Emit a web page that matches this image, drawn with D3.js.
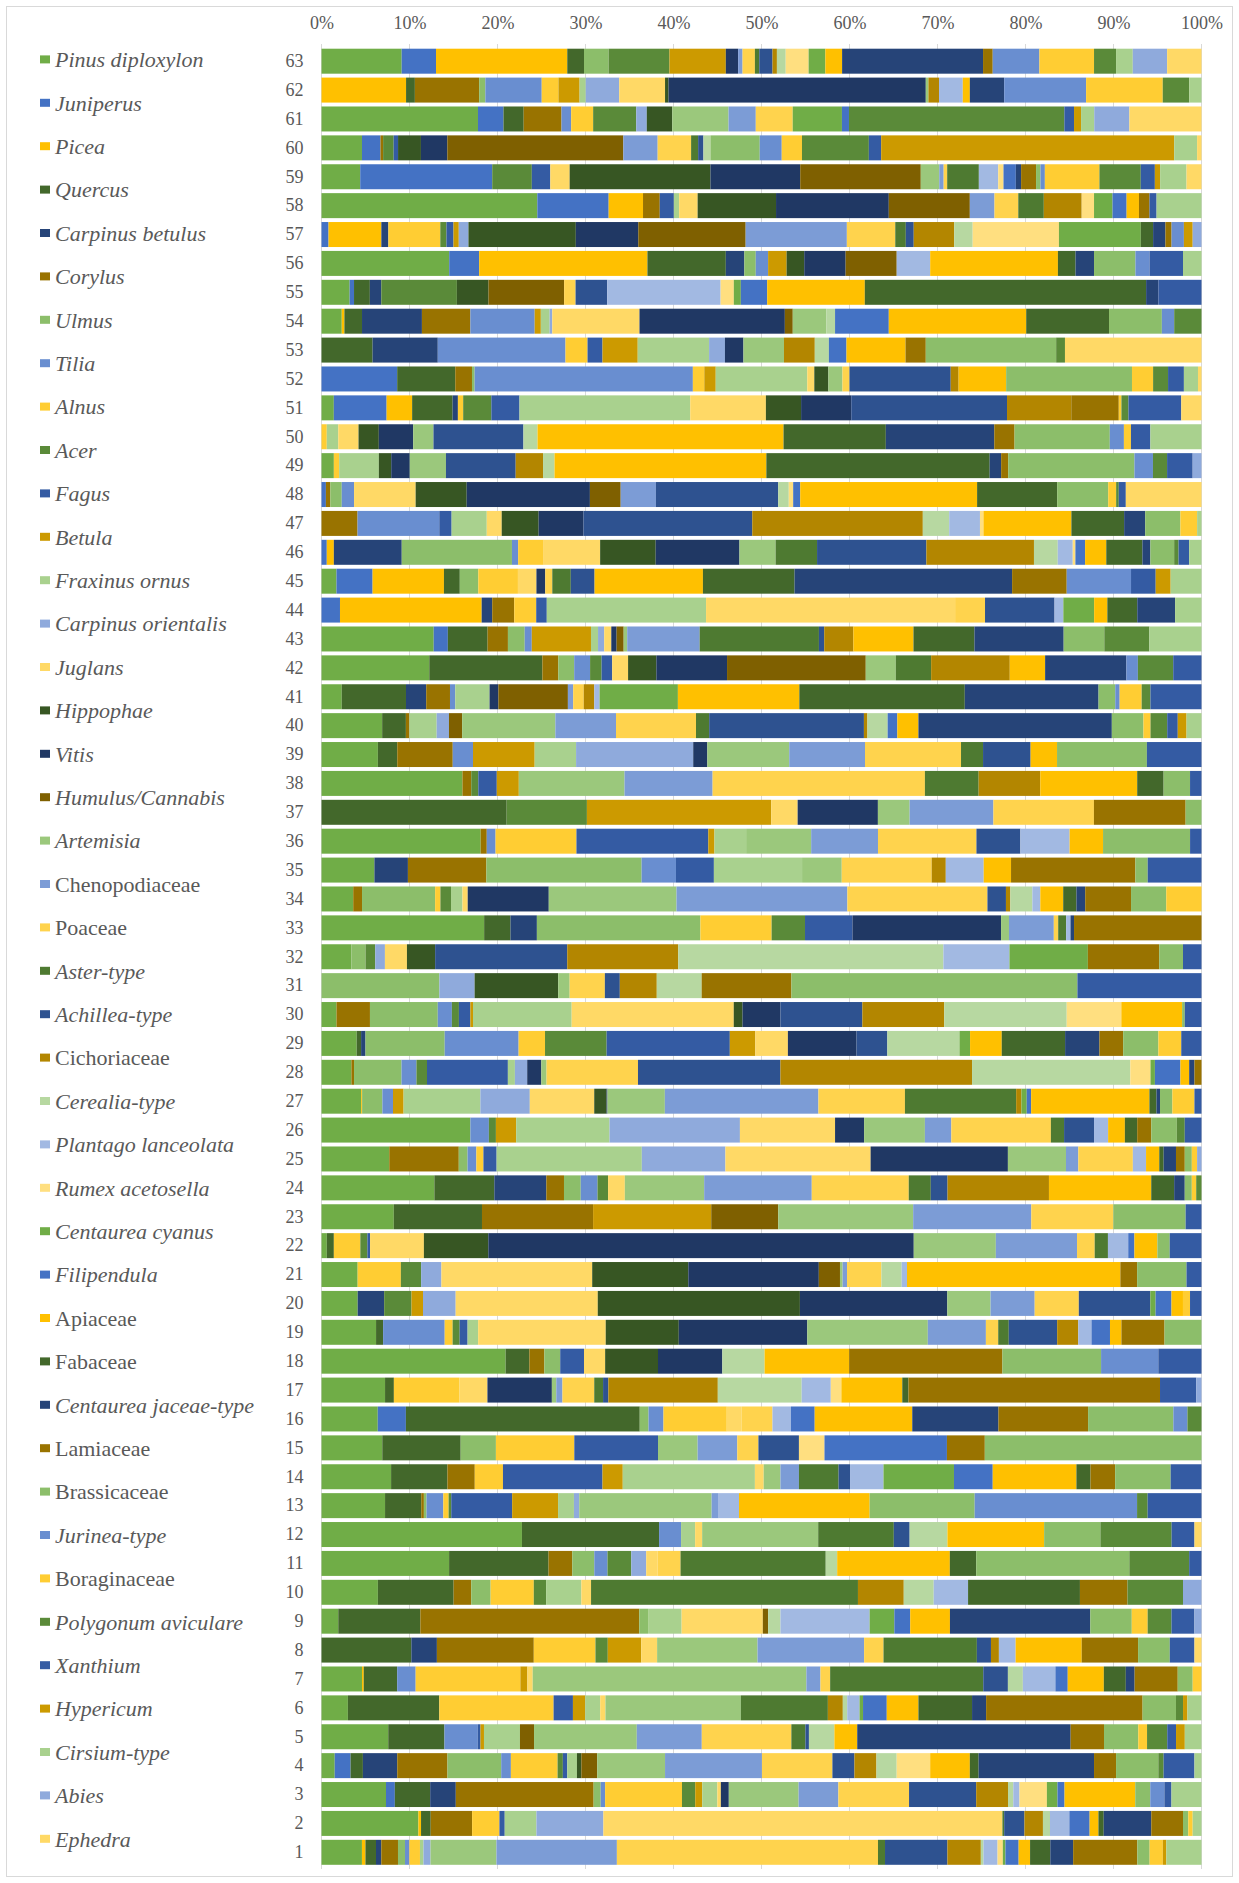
<!DOCTYPE html>
<html><head><meta charset="utf-8">
<script src="https://cdn.jsdelivr.net/npm/d3@7"></script>
<style>body{margin:0;background:#fff} svg{display:block}</style>
</head><body><svg id="chart" width="1239" height="1883"></svg>
<script>
const taxa = ["Pinus diploxylon","Juniperus","Picea","Quercus","Carpinus betulus","Corylus","Ulmus","Tilia","Alnus","Acer","Fagus","Betula","Fraxinus ornus","Carpinus orientalis","Juglans","Hippophae","Vitis","Humulus/Cannabis","Artemisia","Chenopodiaceae","Poaceae","Aster-type","Achillea-type","Cichoriaceae","Cerealia-type","Plantago lanceolata","Rumex acetosella","Centaurea cyanus","Filipendula","Apiaceae","Fabaceae","Centaurea jaceae-type","Lamiaceae","Brassicaceae","Jurinea-type","Boraginaceae","Polygonum aviculare","Xanthium","Hypericum","Cirsium-type","Abies","Ephedra"];
const families = ["Chenopodiaceae","Poaceae","Cichoriaceae","Apiaceae","Fabaceae","Lamiaceae","Brassicaceae","Boraginaceae"];
const palette = ["#70AD47","#4472C4","#FFC000","#43682B","#264478","#997300","#8CBE6A","#698ED0","#FFCD33","#5A8A39","#345BA3","#CC9A00","#A9D18E","#8FAADC","#FFD966","#375623","#203864","#7F6000","#9BC87C","#7C9CD6","#FFD34D","#4E7A31","#2E5290","#B38600","#B7D8A1","#A2B9E2","#FFDF80"];
const samples = d3.range(63, 0, -1);
const tickValues = d3.range(0, 11).map(d => d / 10);

// sample -> [taxon number (1-based, legend order), percent]
const abundance = {
63:[[1,9.1],[2,3.9],[3,14.9],[4,1.9],[7,2.8],[10,6.9],[12,6.4],[17,1.4],[20,0.5],[21,1.4],[22,0.5],[23,1.5],[24,0.5],[25,1.0],[27,2.6],[28,1.9],[30,1.9],[32,16.0],[33,1.1],[35,5.3],[36,6.2],[37,2.5],[40,1.9],[41,3.9],[42,3.9]],
62:[[3,9.6],[4,1.0],[6,7.3],[7,0.7],[8,6.4],[9,1.9],[12,2.4],[13,0.7],[14,3.8],[15,5.2],[16,0.4],[17,29.2],[19,0.3],[24,1.2],[26,2.7],[30,0.8],[32,3.9],[35,9.3],[36,8.7],[37,3.0],[40,1.4]],
61:[[1,17.8],[2,2.9],[4,2.3],[6,4.3],[8,1.1],[9,2.5],[10,4.9],[14,1.2],[16,2.9],[19,6.4],[20,3.1],[21,4.2],[28,5.6],[29,0.8],[37,24.5],[38,1.1],[39,0.8],[40,1.5],[41,4.0],[42,8.2]],
60:[[1,4.6],[2,2.1],[6,0.3],[10,1.2],[11,0.5],[16,2.6],[17,3.0],[18,20.0],[20,3.9],[21,3.8],[22,0.8],[23,0.6],[25,0.8],[34,5.6],[35,2.5],[36,2.3],[37,7.6],[38,1.4],[39,33.3],[40,2.6],[42,0.5]],
59:[[1,4.4],[2,15.0],[10,4.5],[11,2.1],[15,2.2],[16,16.0],[17,10.2],[18,13.7],[19,2.1],[20,0.5],[21,0.4],[22,3.6],[26,2.2],[27,0.6],[29,1.4],[32,0.6],[33,1.7],[34,0.5],[35,0.5],[36,6.2],[37,4.7],[38,1.6],[39,0.6],[40,3.0],[42,1.7]],
58:[[1,24.5],[2,8.1],[3,3.9],[6,1.9],[11,1.6],[13,0.6],[15,2.1],[16,8.9],[17,12.8],[18,9.2],[20,2.8],[21,2.7],[22,2.9],[24,4.3],[27,1.4],[28,2.1],[29,1.6],[30,1.4],[33,1.2],[38,0.8],[40,5.1]],
57:[[2,0.8],[3,6.0],[5,0.8],[9,5.9],[10,0.7],[11,0.8],[12,0.6],[14,1.1],[16,12.2],[17,7.1],[18,12.2],[20,11.5],[21,5.5],[22,1.2],[23,0.9],[24,4.6],[25,2.1],[27,9.8],[28,9.3],[31,1.4],[32,1.4],[33,0.7],[35,1.4],[39,1.0],[41,1.0]],
56:[[1,14.5],[2,3.4],[3,19.1],[4,8.9],[5,2.1],[7,1.3],[8,1.4],[12,2.1],[16,2.0],[17,4.7],[18,5.8],[26,3.8],[30,14.5],[31,2.0],[32,2.1],[34,4.7],[35,1.6],[38,3.8],[40,2.1]],
55:[[1,3.2],[2,0.5],[4,1.8],[5,1.3],[10,8.6],[16,3.6],[18,8.6],[21,1.3],[23,3.6],[26,12.9],[27,1.5],[28,0.8],[29,3.0],[30,11.1],[31,32.0],[32,1.4],[38,4.9]],
54:[[1,2.3],[3,0.3],[4,2.0],[5,6.8],[6,5.5],[8,7.3],[12,0.7],[13,1.0],[14,0.3],[15,9.9],[17,16.5],[18,0.9],[19,3.8],[25,1.0],[29,6.1],[30,15.6],[31,9.4],[34,6.0],[35,1.4],[37,3.1]],
53:[[4,5.8],[5,7.4],[8,14.5],[9,2.5],[11,1.7],[12,4.0],[13,8.1],[14,1.8],[17,2.1],[19,4.6],[24,3.5],[25,1.6],[29,2.0],[30,6.7],[33,2.3],[34,14.8],[37,1.0],[42,15.5]],
52:[[2,8.6],[4,6.6],[6,1.9],[7,0.3],[8,24.8],[9,1.3],[12,1.3],[13,10.4],[15,0.8],[16,1.6],[19,1.6],[21,0.8],[23,11.5],[24,0.9],[30,5.4],[34,14.3],[36,2.4],[37,1.7],[38,1.8],[40,1.6],[42,0.4]],
51:[[1,1.4],[2,6.0],[3,2.9],[4,4.6],[5,0.6],[9,0.6],[10,3.2],[11,3.2],[13,19.4],[15,8.6],[16,4.0],[17,5.7],[23,17.7],[24,7.3],[33,5.4],[36,0.3],[37,0.8],[38,6.0],[42,2.3]],
50:[[9,0.6],[13,1.3],[15,2.3],[16,2.3],[17,3.9],[19,2.3],[23,10.2],[25,1.6],[30,27.9],[31,11.6],[32,12.3],[33,2.3],[34,10.8],[35,1.6],[36,0.8],[38,2.2],[40,5.8]],
49:[[1,1.4],[9,0.6],[13,4.5],[16,1.4],[17,2.1],[19,4.1],[23,7.9],[24,3.1],[25,1.3],[30,24.0],[31,25.3],[32,1.3],[33,0.8],[34,14.3],[35,2.1],[37,1.6],[38,2.9],[41,1.0]],
48:[[2,0.5],[6,0.5],[7,1.3],[8,1.4],[15,7.0],[16,5.8],[17,14.0],[18,3.5],[20,4.0],[23,13.9],[25,1.2],[27,0.5],[29,0.8],[30,20.1],[31,9.1],[34,5.8],[36,0.9],[37,0.3],[38,0.8],[42,8.6]],
47:[[6,4.1],[8,9.3],[11,1.4],[13,4.0],[15,1.7],[16,4.2],[17,5.1],[23,19.2],[24,19.4],[25,3.0],[26,3.5],[27,0.4],[30,10.0],[31,6.0],[32,2.4],[34,4.0],[36,1.9],[40,0.5]],
46:[[2,0.6],[3,0.8],[5,7.7],[7,12.5],[8,0.7],[9,2.9],[15,6.4],[16,6.3],[17,9.5],[19,4.1],[22,4.7],[23,12.4],[24,12.2],[25,2.7],[26,1.7],[27,0.3],[29,1.1],[30,2.4],[31,4.1],[32,0.9],[34,2.7],[37,0.5],[38,1.2],[40,1.4]],
45:[[1,1.7],[2,4.1],[3,8.1],[4,1.8],[7,2.1],[9,4.5],[15,2.1],[17,1.0],[21,0.8],[22,2.1],[23,2.7],[30,12.3],[31,10.4],[32,24.7],[33,6.2],[35,7.3],[38,2.8],[39,1.7],[40,3.5]],
44:[[2,2.1],[3,16.1],[5,1.2],[6,2.5],[9,2.5],[11,1.2],[13,18.1],[15,28.3],[21,3.4],[23,7.9],[26,1.0],[28,3.5],[30,1.5],[31,3.4],[32,4.3],[40,3.0]],
43:[[1,12.7],[2,1.6],[4,4.5],[6,2.3],[7,1.9],[8,0.8],[12,6.7],[13,0.8],[14,0.7],[15,0.8],[17,0.6],[18,0.8],[19,0.4],[20,8.2],[22,13.5],[23,0.6],[24,3.3],[30,6.8],[31,6.9],[32,10.1],[34,4.6],[37,5.1],[40,5.9]],
42:[[1,12.2],[4,12.8],[6,1.8],[7,1.8],[8,1.8],[10,1.3],[11,1.2],[15,1.8],[16,3.2],[17,8.0],[18,15.7],[19,3.4],[22,4.0],[24,8.9],[30,4.0],[32,9.2],[35,1.3],[37,4.0],[38,3.2]],
41:[[1,2.3],[4,7.3],[5,2.3],[6,2.7],[8,0.6],[13,3.9],[17,1.0],[18,7.9],[20,0.6],[21,1.2],[24,1.2],[26,0.6],[28,8.9],[30,13.8],[31,18.8],[32,15.2],[34,1.9],[35,0.5],[36,2.5],[37,1.0],[38,5.8]],
40:[[1,6.9],[4,2.7],[6,0.4],[13,3.1],[14,1.4],[18,1.5],[19,10.6],[20,6.9],[21,9.1],[22,1.5],[23,17.6],[24,0.4],[25,2.3],[29,1.1],[30,2.4],[32,22.0],[34,3.6],[36,0.8],[37,1.9],[38,1.2],[39,1.0],[40,1.7]],
39:[[1,6.4],[4,2.2],[6,6.3],[8,2.3],[12,7.0],[13,4.7],[14,13.3],[17,1.6],[19,9.3],[20,8.6],[21,10.9],[22,2.5],[23,5.4],[30,3.0],[34,10.2],[38,6.2]],
38:[[1,16.0],[6,1.0],[10,0.8],[11,2.1],[12,2.5],[19,12.0],[20,10.0],[21,24.1],[22,6.1],[24,7.0],[30,11.0],[31,3.0],[34,3.0],[38,1.3]],
37:[[4,21.0],[10,9.1],[12,20.9],[15,3.0],[17,9.1],[19,3.6],[20,9.5],[21,11.4],[33,10.4],[34,1.8]],
36:[[1,18.1],[6,0.7],[8,1.0],[9,9.2],[11,15.0],[12,0.7],[13,3.6],[19,7.4],[20,7.6],[21,11.2],[23,5.0],[26,5.6],[30,3.8],[34,9.9],[38,1.3]],
35:[[1,6.0],[5,3.8],[6,8.9],[7,17.6],[8,3.9],[11,4.3],[13,10.0],[19,4.5],[21,10.2],[24,1.6],[26,4.3],[30,3.1],[33,14.1],[34,1.4],[38,6.1]],
34:[[1,3.6],[6,1.0],[7,8.3],[9,0.6],[10,1.2],[13,1.3],[15,0.6],[17,9.2],[19,14.5],[20,19.4],[21,15.9],[23,2.1],[24,0.5],[25,2.5],[26,0.9],[30,2.6],[31,1.5],[32,1.0],[33,5.2],[34,4.0],[36,4.0]],
33:[[1,18.5],[4,3.0],[5,3.0],[7,18.6],[9,8.1],[10,3.8],[11,5.4],[17,16.9],[19,0.9],[20,5.1],[21,0.5],[22,0.9],[26,0.5],[32,0.4],[33,14.5]],
32:[[1,3.4],[7,1.6],[10,1.1],[14,1.1],[15,2.5],[16,3.2],[23,15.0],[24,12.6],[25,30.1],[26,7.5],[28,8.9],[33,8.1],[34,2.7],[38,2.1]],
31:[[7,13.4],[14,4.0],[16,9.5],[19,1.3],[21,4.0],[23,1.7],[24,4.2],[25,5.1],[33,10.2],[34,32.5],[38,14.1]],
30:[[1,1.7],[6,3.8],[7,7.7],[8,1.6],[10,0.8],[11,1.3],[12,0.3],[13,11.2],[15,18.4],[16,1.0],[17,4.3],[23,9.3],[24,9.3],[25,13.9],[27,6.2],[30,6.9],[34,0.3],[38,1.9]],
29:[[1,4.0],[4,0.5],[5,0.5],[7,9.0],[8,8.4],[9,3.0],[10,7.0],[11,14.0],[12,2.9],[15,3.7],[17,7.8],[23,3.5],[25,8.2],[28,1.2],[30,3.6],[31,7.2],[32,3.9],[33,2.7],[34,4.0],[36,2.6],[38,2.3]],
28:[[1,3.4],[6,0.3],[7,5.4],[8,1.7],[10,1.2],[11,9.2],[13,0.8],[14,1.4],[17,1.6],[19,0.6],[21,10.4],[23,16.2],[24,21.8],[25,18.0],[27,2.3],[28,0.5],[29,2.9],[30,1.0],[32,0.6],[33,0.8]],
27:[[1,4.5],[3,0.1],[7,2.3],[8,1.2],[12,1.2],[13,8.7],[14,5.6],[15,7.3],[16,1.4],[17,0.1],[19,6.5],[20,17.4],[21,9.8],[22,12.6],[24,0.6],[28,0.6],[29,0.5],[30,13.4],[31,0.8],[32,0.4],[34,1.4],[36,2.5],[38,0.8]],
26:[[1,16.9],[8,2.1],[10,0.8],[12,2.3],[13,10.6],[14,14.8],[15,10.8],[17,3.3],[19,6.9],[20,3.0],[21,11.3],[22,1.5],[23,3.4],[26,1.6],[30,1.9],[31,1.4],[33,1.6],[34,2.9],[37,0.9],[38,1.9]],
25:[[1,7.7],[6,7.9],[7,1.0],[8,1.0],[9,0.8],[11,1.5],[13,16.5],[14,9.5],[15,16.5],[17,15.6],[19,6.6],[20,1.4],[21,6.2],[26,1.5],[30,1.5],[31,0.5],[32,1.4],[33,1.0],[34,0.8],[36,0.6],[41,0.5]],
24:[[1,12.8],[4,6.8],[5,5.9],[6,2.0],[7,1.9],[8,1.9],[10,1.2],[15,1.9],[19,9.0],[20,12.2],[21,11.0],[22,2.5],[23,1.9],[24,11.5],[30,11.6],[31,2.6],[32,1.2],[34,0.8],[36,0.5],[37,0.6]],
23:[[1,8.2],[4,10.0],[6,12.6],[12,13.4],[18,7.6],[19,15.3],[20,13.4],[21,9.3],[34,8.2],[38,1.8]],
22:[[1,0.6],[4,0.8],[9,3.0],[10,0.8],[11,0.3],[15,6.1],[16,7.3],[17,48.2],[19,9.3],[20,9.2],[21,2.0],[22,1.5],[26,2.3],[29,0.7],[30,2.6],[34,1.4],[38,3.6]],
21:[[1,4.1],[9,4.9],[10,2.3],[14,2.3],[15,17.1],[16,10.9],[17,14.8],[18,2.4],[19,0.3],[20,0.5],[21,3.9],[25,2.3],[26,0.6],[30,24.2],[33,1.9],[34,5.6],[38,1.7]],
20:[[1,4.1],[5,3.0],[10,3.1],[12,1.3],[14,3.7],[15,16.1],[16,22.9],[17,16.7],[19,4.9],[20,5.0],[21,5.0],[23,8.1],[28,0.6],[29,1.8],[30,1.3],[36,0.8],[38,1.3]],
19:[[1,6.2],[4,0.8],[8,7.0],[9,0.9],[10,0.8],[11,0.9],[13,1.2],[15,14.5],[16,8.3],[17,14.6],[19,13.7],[20,6.6],[21,1.4],[22,1.2],[23,5.5],[24,2.4],[26,1.5],[29,2.1],[30,1.3],[33,4.9],[34,4.2]],
18:[[1,20.9],[4,2.7],[6,1.7],[7,1.8],[11,2.7],[15,2.4],[16,6.0],[17,7.3],[25,4.8],[30,9.6],[33,17.4],[34,11.2],[35,6.5],[38,4.9]],
17:[[1,7.2],[4,1.0],[9,7.4],[15,3.2],[17,7.3],[19,0.5],[20,0.7],[21,3.6],[22,1.0],[23,0.6],[24,12.4],[25,9.5],[26,3.3],[27,1.2],[30,6.9],[31,0.7],[33,28.5],[38,4.1],[41,0.6]],
16:[[1,6.4],[2,3.2],[4,26.6],[7,1.0],[8,1.7],[9,7.2],[15,1.7],[21,3.5],[26,2.1],[29,2.7],[30,11.1],[32,9.8],[33,10.2],[34,9.7],[35,1.6],[37,1.6]],
15:[[1,6.9],[4,8.9],[7,4.0],[9,8.9],[11,9.5],[19,4.5],[20,4.5],[21,2.4],[23,4.6],[27,2.9],[29,13.9],[33,4.3],[34,24.6]],
14:[[1,7.9],[4,6.4],[6,3.1],[9,3.2],[11,11.3],[12,2.3],[13,15.0],[15,1.0],[19,1.9],[20,2.1],[22,4.5],[23,1.3],[26,3.8],[28,8.0],[29,4.4],[30,9.5],[31,1.6],[33,2.8],[34,6.3],[38,3.5]],
13:[[1,7.2],[4,4.1],[6,0.3],[7,0.3],[8,1.9],[9,0.6],[10,0.3],[11,6.9],[12,5.2],[13,1.8],[14,0.6],[19,15.0],[20,0.8],[26,2.3],[30,14.8],[34,11.9],[35,18.4],[37,1.2],[38,6.1]],
12:[[1,22.8],[4,15.6],[8,2.5],[13,1.6],[15,0.8],[19,13.2],[22,8.6],[23,1.8],[25,4.3],[30,11.0],[34,6.4],[37,8.1],[38,2.6],[42,0.8]],
11:[[1,14.5],[4,11.3],[6,2.7],[7,2.5],[8,1.5],[10,2.7],[14,1.7],[15,1.3],[21,2.6],[22,16.5],[25,1.3],[30,12.8],[31,3.0],[34,17.4],[37,6.8],[38,1.4]],
10:[[1,6.4],[4,8.6],[6,2.0],[7,2.2],[9,4.9],[10,1.4],[13,4.0],[15,1.1],[22,30.3],[24,5.2],[25,3.4],[26,3.9],[31,12.7],[33,5.4],[37,6.3],[41,2.1]],
9:[[1,1.9],[4,9.3],[6,24.8],[7,1.0],[13,3.8],[15,9.2],[18,0.6],[25,1.4],[26,10.1],[28,2.8],[29,1.8],[30,4.5],[32,15.9],[34,4.7],[36,1.8],[37,2.7],[38,2.6],[41,0.8]],
8:[[4,10.2],[5,2.9],[6,11.0],[9,7.0],[10,1.4],[12,3.8],[15,1.8],[19,11.4],[20,12.1],[21,2.2],[22,10.6],[23,1.6],[24,0.9],[26,1.9],[30,7.5],[33,6.4],[34,3.6],[38,2.8],[42,0.8]],
7:[[1,4.6],[3,0.2],[4,3.8],[8,2.1],[9,11.9],[12,0.8],[15,0.6],[19,31.1],[20,1.6],[21,1.1],[22,17.4],[23,2.8],[25,1.7],[26,3.7],[29,1.4],[30,4.1],[31,2.5],[32,1.0],[33,4.9],[34,1.7],[36,1.0]],
6:[[1,3.0],[4,10.4],[9,13.0],[11,2.2],[12,1.4],[13,1.7],[15,0.6],[19,15.4],[22,9.9],[24,1.7],[25,0.5],[26,1.4],[28,0.4],[29,2.7],[30,3.6],[31,6.1],[32,1.6],[33,17.8],[34,3.8],[37,0.8],[39,0.5],[40,1.6]],
5:[[1,7.6],[4,6.4],[8,3.8],[11,0.3],[12,0.4],[13,4.1],[18,1.6],[19,11.7],[20,7.4],[21,10.2],[22,1.6],[23,0.4],[25,2.9],[30,2.6],[32,24.3],[33,3.8],[34,3.9],[36,1.0],[37,2.3],[38,1.0],[39,1.0],[40,1.9]],
4:[[1,1.5],[2,1.8],[4,1.4],[5,3.9],[6,5.7],[7,6.1],[8,1.1],[9,5.3],[10,0.6],[11,0.5],[13,1.1],[16,0.5],[18,1.8],[19,7.7],[20,11.0],[21,8.0],[23,2.5],[24,2.5],[25,2.3],[27,3.8],[30,4.5],[31,1.0],[32,13.1],[33,2.5],[34,4.8],[37,0.6],[38,3.5],[40,0.8]],
3:[[1,7.3],[2,1.0],[4,4.0],[5,2.9],[6,15.6],[7,0.8],[8,0.5],[9,8.7],[10,1.5],[12,0.8],[13,1.7],[15,0.4],[17,0.9],[19,7.9],[20,4.5],[21,8.0],[23,7.6],[24,3.6],[25,0.6],[26,0.7],[27,3.1],[28,1.2],[29,0.8],[30,8.0],[34,1.7],[35,1.6],[38,0.8],[40,3.4]],
2:[[1,11.0],[3,0.3],[4,1.1],[6,4.7],[9,3.1],[11,0.6],[13,3.6],[14,7.6],[15,45.3],[22,0.2],[23,2.3],[24,2.1],[25,0.8],[26,2.2],[29,2.3],[30,1.0],[31,0.6],[32,5.4],[33,3.6],[34,0.6],[36,0.5],[40,1.0]],
1:[[1,4.6],[3,0.4],[4,1.2],[5,0.6],[6,1.9],[7,0.8],[8,0.5],[9,1.2],[13,0.4],[14,0.8],[19,7.5],[20,13.7],[21,29.7],[22,0.8],[23,7.1],[24,3.8],[25,0.3],[26,1.6],[27,0.6],[28,0.3],[29,1.5],[30,1.3],[31,2.3],[32,2.6],[33,7.3],[34,1.4],[36,1.5],[39,0.4],[40,4.0]]
};

const color = d3.scaleOrdinal(taxa, taxa.map((t, i) => palette[i % palette.length]));

const table = samples.map(s => {
  const row = { sample: s };
  taxa.forEach(t => row[t] = 0);
  abundance[s].forEach(([i, v]) => row[taxa[i - 1]] = v);
  return row;
});
const series = d3.stack().keys(taxa).offset(d3.stackOffsetExpand)(table);

const svg = d3.select("#chart");
const textColor = "#595959";
const font = "'Liberation Serif','Times New Roman',serif";

svg.append("rect").attr("x", 6.5).attr("y", 6.5).attr("width", 1226).attr("height", 1870)
  .attr("fill", "#fff").attr("stroke", "#D9D9D9");

const x = d3.scaleLinear([0, 1], [321.5, 1201.5]);
const y = d3.scaleBand(samples, [46.75, 1866.75]).paddingInner(0.135).paddingOuter(0.0675);

// gridlines
svg.append("g").selectAll("line").data(tickValues).join("line")
  .attr("x1", d => x(d)).attr("x2", d => x(d))
  .attr("y1", 44).attr("y2", 1869)
  .attr("stroke", "#D9D9D9").attr("stroke-width", 1);

// bars
svg.append("g").selectAll("g").data(series).join("g")
  .attr("fill", d => color(d.key))
  .selectAll("rect").data(d => d.filter(p => p[1] - p[0] > 0)).join("rect")
  .attr("x", d => x(d[0]))
  .attr("width", d => x(d[1]) - x(d[0]))
  .attr("y", d => y(d.data.sample))
  .attr("height", y.bandwidth());

// top axis
const xAxis = svg.append("g").attr("transform", "translate(0,29)")
  .call(d3.axisTop(x).tickValues(tickValues).tickFormat(d3.format(".0%")).tickSize(0).tickPadding(0));
xAxis.select(".domain").remove();
xAxis.selectAll("text").attr("font-family", font).attr("font-size", 18).attr("fill", textColor);

// left axis (sample numbers)
const yAxis = svg.append("g").attr("transform", "translate(321.5,0)")
  .call(d3.axisLeft(y).tickSize(0).tickPadding(18));
yAxis.select(".domain").remove();
yAxis.selectAll("text").attr("font-family", font).attr("font-size", 18).attr("fill", textColor);

// legend
const legend = svg.append("g").selectAll("g").data(taxa).join("g")
  .attr("transform", (d, i) => `translate(40,${59.4 + i * 43.4})`);
legend.append("rect").attr("x", 0).attr("y", -4).attr("width", 10).attr("height", 8)
  .attr("fill", d => color(d));
legend.append("text").attr("x", 15).attr("dy", "0.35em")
  .attr("font-family", font).attr("font-size", 22)
  .attr("font-style", d => families.includes(d) ? "normal" : "italic")
  .attr("fill", textColor).text(d => d);
</script>
</body></html>
